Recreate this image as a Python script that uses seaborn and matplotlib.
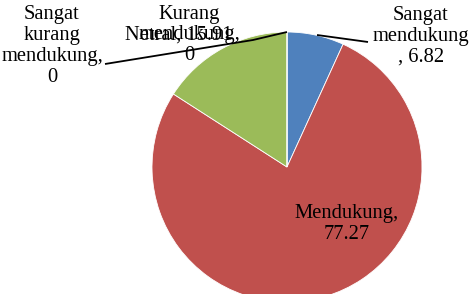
import matplotlib
matplotlib.use("Agg")
import matplotlib.pyplot as plt
import seaborn as sns

categories = ["Sangat mendukung", "Mendukung", "Netral", "Kurang mendukung", "Sangat kurang mendukung"]
values = [6.82, 77.27, 15.91, 0, 0]
label_texts = ["Sangat\nmendukung\n, 6.82", "Mendukung,\n77.27", "Netral, 15.91",
               "Kurang\nmendukung,\n0", "Sangat\nkurang\nmendukung,\n0"]
colors = ["#4F81BD", "#C0504D", "#9BBB59", "#8064A2", "#4BACC6"]

sns.set_theme(style="white")
plt.rcParams['font.family'] = ['Liberation Serif', 'DejaVu Serif']

W, H = 474, 294
fig = plt.figure(figsize=(W / 100, H / 100), dpi=100)
ax = fig.add_axes([0, 0, 1, 1])

cx, cy, r = 287, 167, 135
ax.pie(values, colors=colors, startangle=-90, counterclock=True,
       center=(cx, cy), radius=r, frame=True,
       wedgeprops=dict(linewidth=0.6, edgecolor='white'))
ax.set_xlim(0, W)
ax.set_ylim(H, 0)
ax.set_aspect('equal')
ax.axis('off')

fs = 14.8
pos = [(421, 36), (347, 224), (179, 35), (189, 35), (52, 46)]
for t, (x, y) in zip(label_texts, pos):
    ax.text(x, y, t, ha='center', va='center', fontsize=fs, color='black',
            linespacing=1.12)

ax.plot([317, 368], [35, 42], color='black', lw=1.3, solid_capstyle='butt')
ax.plot([105, 253, 287], [64, 40, 32], color='black', lw=1.3, solid_capstyle='butt')

fig.savefig("out.png", dpi=100)
